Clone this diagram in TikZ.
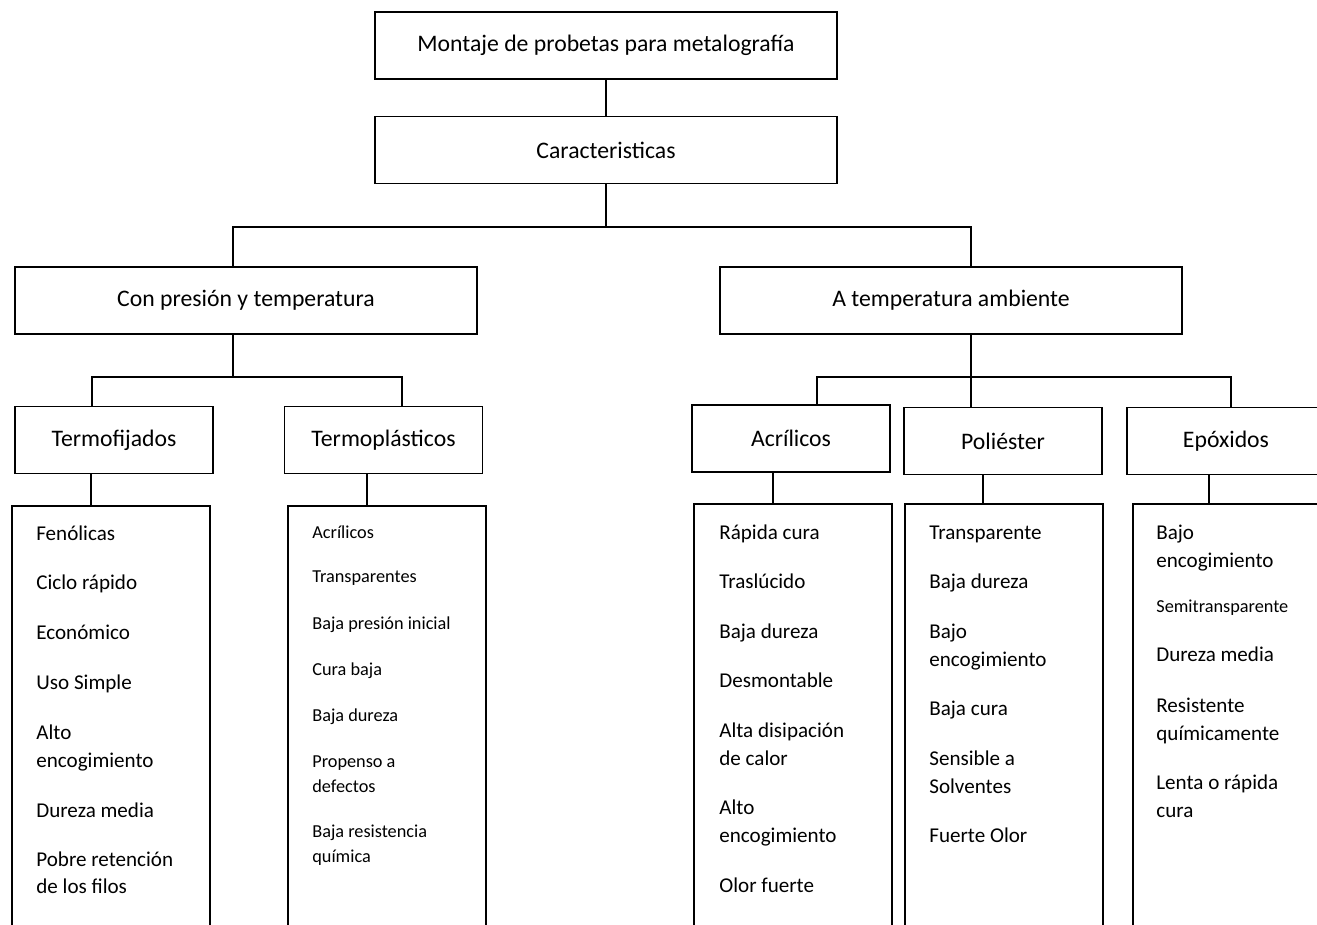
\documentclass[tikz,border=0pt]{standalone}
\usepackage{fontspec}
\setmainfont{Carlito}
\begin{document}
\begin{tikzpicture}[x=0.02cm,y=-0.02cm,
  box/.style={draw,line width=1.1pt,minimum width=3.96cm,minimum height=1.34cm,inner sep=0pt,font=\fontsize{13.5}{16}\selectfont},
  wide/.style={box,minimum width=9.24cm},
  list/.style={draw,line width=1.1pt,minimum width=3.96cm,minimum height=8.8cm,anchor=north,inner sep=0pt},
  item/.style={anchor=base west,inner sep=0pt,font=\fontsize{12}{14}\selectfont},
  small/.style={item,font=\fontsize{10.4}{12}\selectfont},
  link/.style={line width=1pt}]
\useasboundingbox (0,0) rectangle (1317,924);
\clip (0,0) rectangle (1317,924);
% boxes
\node[wide] (top) at (606,45.5) {Montaje de probetas para metalografía};
\node[wide] (carac) at (606,150) {Caracteristicas};
\node[wide] (cpt) at (246,300.5) {Con presión y temperatura};
\node[wide] (ata) at (951,300.5) {A temperatura ambiente};
\foreach \n/\x/\y/\txt in {tf/114/440/Termofijados, tp/383.5/440/Termoplásticos, ac/791/438.5/Acrílicos, po/1003/441/Poliéster, ep/1226/441/Epóxidos}
  { \node[box] (\n) at (\x,\y) {\txt}; };
\foreach \n/\x/\y in {d1/111/505, d2/387/505, d3/793/503, d4/1004/503, d5/1232/503}
  { \node[list] (\n) at (\x,\y) {}; };
% connectors
\coordinate (b1) at (233,227); \coordinate (b2) at (971,227);
\coordinate (b3) at (92,377); \coordinate (b4) at (402,377);
\coordinate (b5) at (817,377); \coordinate (b6) at (1231,377);
\draw[link] (top) -- (carac);
\draw[link] (carac.south) -- (carac.south |- b1);
\draw[link] (cpt.north -| b1) -- (b1) -- (b2) -- (ata.north -| b2);
\draw[link] (cpt.south -| b1) -- (b1 |- b3);
\draw[link] (tf.north -| b3) -- (b3) -- (b4) -- (tp.north -| b4);
\draw[link] (ata.south -| b2) -- (b2 |- b5);
\draw[link] (ac.north -| b5) -- (b5) -- (b6) -- (ep.north -| b6);
\draw[link] (po.north -| b2) -- (b2 |- b5);
\foreach \a/\b/\x in {tf/d1/91, tp/d2/367, ac/d3/773, po/d4/983, ep/d5/1209}
  { \draw[link] (\a.south -| \x,0) -- (\b.north -| \x,0); };
% lists
\foreach \y/\txt [count=\i] in {540/Fenólicas, 589/Ciclo rápido, 639/Económico, 689/Uso Simple, 739/Alto, 767/encogimiento, 817/Dureza media, 866/Pobre retención, 893/de los filos}
  { \node[item] (f\i) at (36,\y) {\txt}; };
\foreach \y/\txt [count=\i] in {538/Acrílicos, 582/Transparentes, 629/Baja presión inicial, 675/Cura baja, 721/Baja dureza, 767/Propenso a, 792/defectos, 837/Baja resistencia, 862/química}
  { \node[small] (p\i) at (312,\y) {\txt}; };
\foreach \y/\txt [count=\i] in {539/Rápida cura, 588/Traslúcido, 638/Baja dureza, 687/Desmontable, 737/Alta disipación, 765/de calor, 814/Alto, 842/encogimiento, 892/Olor fuerte}
  { \node[item] (a\i) at (719,\y) {\txt}; };
\foreach \y/\txt [count=\i] in {539/Transparente, 588/Baja dureza, 638/Bajo, 666/encogimiento, 715/Baja cura, 765/Sensible a, 793/Solventes, 842/Fuerte Olor}
  { \node[item] (s\i) at (929,\y) {\txt}; };
\foreach \y/\txt [count=\i] in {539/Bajo, 567/encogimiento, 661/Dureza media, 712/Resistente, 740/químicamente, 789/Lenta o rápida, 817/cura}
  { \node[item] (e\i) at (1156,\y) {\txt}; };
\node[small] (e0) at (1156,612) {Semitransparente};
\end{tikzpicture}
\end{document}
